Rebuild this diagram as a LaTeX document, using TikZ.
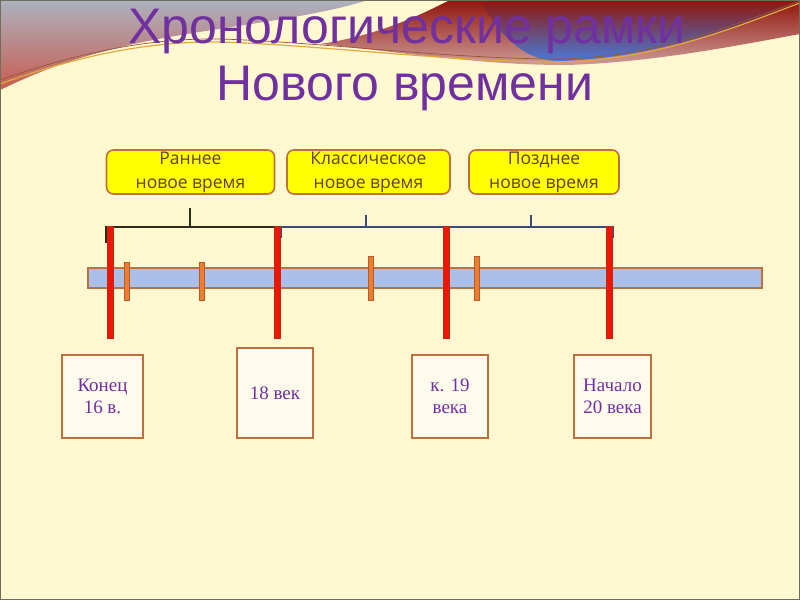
\documentclass[tikz,border=0pt]{standalone}
\usepackage{fontspec}
\setmainfont{Liberation Serif}
\setsansfont{Liberation Sans}
\newfontfamily\periodfont{Open Sans}
\usepackage{xcolor}
\usetikzlibrary{positioning}
\definecolor{slidebg}{RGB}{255,248,208}
\definecolor{slideframe}{RGB}{110,110,90}
\definecolor{titlepurple}{RGB}{112,48,160}
\definecolor{periodyellow}{RGB}{255,255,0}
\definecolor{framebrown}{RGB}{192,112,58}
\definecolor{periodtext}{RGB}{100,62,52}
\definecolor{barblue}{RGB}{170,192,232}
\definecolor{tickorange}{RGB}{237,125,49}
\definecolor{tickedge}{RGB}{185,90,40}
\definecolor{epochred}{RGB}{238,22,0}
\definecolor{epochedge}{RGB}{190,40,20}
\definecolor{bracketdark}{RGB}{45,45,25}
\definecolor{bracketblue}{RGB}{55,75,125}
\definecolor{datecream}{RGB}{255,251,236}
\definecolor{leftgray}{RGB}{172,178,192}
\definecolor{leftred}{RGB}{200,92,78}
\definecolor{rightred}{RGB}{145,22,12}
\definecolor{rightmauve}{RGB}{150,95,150}
\definecolor{rightrose}{RGB}{205,155,150}
\definecolor{rightblue}{RGB}{72,122,215}
\definecolor{goldline}{RGB}{225,170,60}
\definecolor{brownline}{RGB}{150,85,60}
\tikzset{
    heading/.style={
        font=\sffamily\fontsize{50}{50}\selectfont,
        text=titlepurple,
        inner sep=0pt,
        anchor=base
    },
    period/.style={
        rectangle,
        rounded corners=7pt,
        draw=framebrown,
        line width=1.6pt,
        fill=periodyellow,
        text=periodtext,
        align=center,
        minimum height=44pt,
        inner sep=0pt,
        font=\periodfont\fontsize{17.5}{24}\selectfont
    },
    datebox/.style={
        rectangle,
        draw=framebrown,
        line width=2pt,
        fill=datecream,
        text=titlepurple,
        align=center,
        inner sep=0pt,
        font=\fontsize{19}{22}\selectfont
    },
    axisbar/.style={
        rectangle,
        draw=framebrown,
        line width=1.2pt,
        fill=barblue,
        minimum width=674pt,
        minimum height=20pt,
        inner sep=0pt
    },
    yeartick/.style={
        rectangle,
        draw=tickedge,
        line width=0.8pt,
        fill=tickorange,
        minimum width=5pt,
        inner sep=0pt
    },
    epoch/.style={
        rectangle,
        draw=epochedge,
        line width=0.8pt,
        fill=epochred,
        minimum width=6pt,
        minimum height=112pt,
        inner sep=0pt
    },
    bracket/.style={
        line width=2pt
    }
}

\begin{document}
\begin{tikzpicture}[x=1pt, y=-1pt]

\useasboundingbox (0,0) rectangle (800,600);
\fill[slidebg] (0,0) rectangle (800,600);

% Top: slide decoration
\shade[top color=leftgray, bottom color=leftred] (0,0) -- (368,0) .. controls (300,22) and (180,30) .. (110,50) .. controls (60,62) and (25,78) .. (0,90) -- cycle;
\shade[top color=rightred, bottom color=rightrose] (450,0) -- (800,0) -- (800,34) .. controls (740,45) and (650,63) .. (565,65) .. controls (480,65) and (400,52) .. (320,44) .. controls (380,35) and (420,15) .. (450,0) -- cycle;
\shade[top color=rightred, middle color=rightmauve, bottom color=rightblue] (480,0) -- (800,0) -- (800,4) .. controls (740,24) and (660,58) .. (560,61) .. controls (530,61) and (505,45) .. (480,0) -- cycle;
\draw[brownline, line width=0.7pt] (0,80) .. controls (80,52) and (150,38) .. (220,39) .. controls (320,42) and (450,59) .. (560,59) .. controls (660,57) and (740,22) .. (800,1);
\draw[goldline, line width=1.2pt] (0,84) .. controls (80,55) and (150,41) .. (220,42) .. controls (320,45) and (450,62) .. (560,62) .. controls (660,60) and (740,25) .. (800,3);

\node[heading] (title1) at (407,43) {Хронологические рамки};
\node[heading] (title2) at (405,100) {Нового времени};

% Periods
\node[period, minimum width=168pt] (early) at (190.5,172) {Раннее\\новое время};
\node[period, minimum width=163pt] (classic) at (368.5,172) {Классическое\\новое время};
\node[period, minimum width=150pt] (late) at (544,172) {Позднее\\новое время};

% Brackets under the periods
\coordinate (b1l) at (106,243);
\coordinate (b1r) at (276,243);
\coordinate (b1m) at (190,208);
\coordinate (b2l) at (281,238);
\coordinate (b2r) at (448,238);
\coordinate (b2m) at (366,215);
\coordinate (b3r) at (613,238);
\coordinate (b3m) at (531,215);

\draw[bracket, bracketdark] (b1l) |- (b1r |- 0,227) -- (b1r);
\draw[bracket, bracketdark] (b1m) -- (b1m |- 0,227);
\draw[bracket, bracketblue] (b2l) |- (b3r |- 0,227) -- (b3r);
\draw[bracket, bracketblue] (b2r) -- (b2r |- 0,227);
\draw[bracket, bracketblue] (b2m) -- (b2m |- 0,227);
\draw[bracket, bracketblue] (b3m) -- (b3m |- 0,227);

% Time axis
\node[axisbar] (axis) at (425,278) {};

\node[yeartick, minimum height=38pt] (t1) at (127,281) {};
\node[yeartick, minimum height=38pt] (t2) at (202,281) {};
\node[yeartick, minimum height=44pt] (t3) at (371,278) {};
\node[yeartick, minimum height=44pt] (t4) at (477,278) {};

\node[epoch] (e1) at (110,282) {};
\node[epoch] (e2) at (277.5,282) {};
\node[epoch] (e3) at (446.5,282) {};
\node[epoch] (e4) at (609,282) {};

% Dates
\node[datebox, minimum width=81pt, minimum height=83pt] (d1) at (102.5,396.5) {Конец\\16 в.};
\node[datebox, minimum width=76pt, minimum height=90pt] (d2) at (275,393) {18 век};
\node[datebox, minimum width=76pt, minimum height=83pt] (d3) at (450,396.5) {к. 19\\века};
\node[datebox, minimum width=77pt, minimum height=83pt] (d4) at (612.5,396.5) {Начало\\20 века};

\draw[slideframe, line width=1pt] (0.5,0.5) rectangle (799.5,599.5);

\end{tikzpicture}
\end{document}
